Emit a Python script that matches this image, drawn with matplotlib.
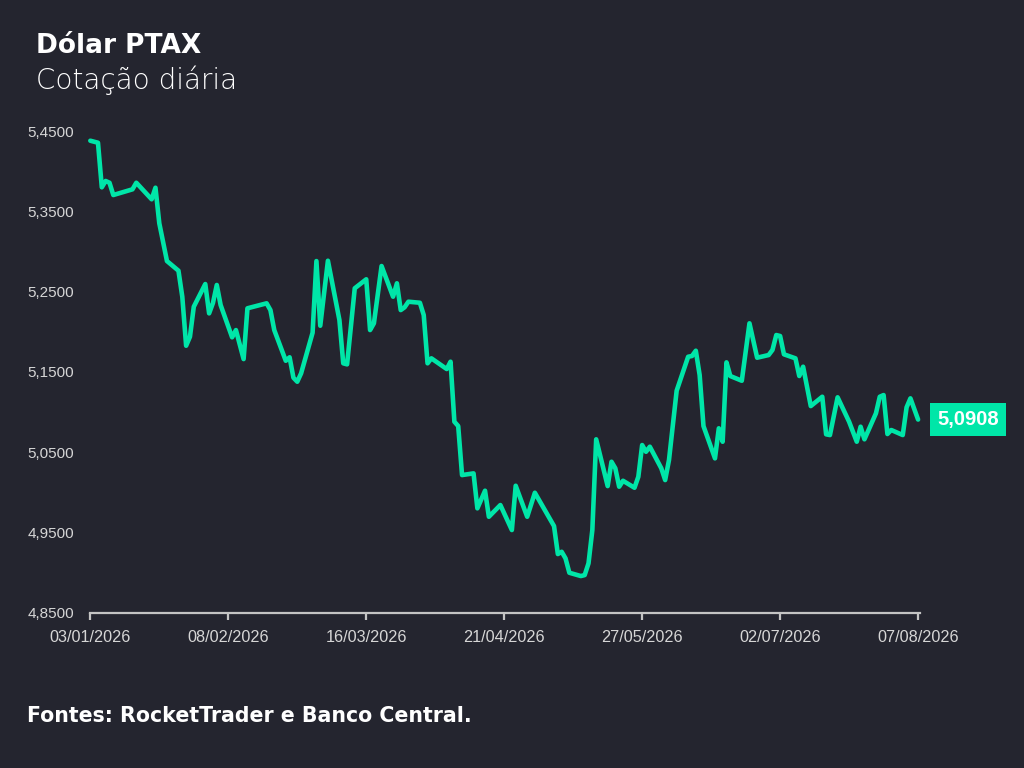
import matplotlib
matplotlib.use("Agg")
import matplotlib.pyplot as plt
import matplotlib.dates as mdates
import numpy as np
import pandas as pd

# ---- data ----
start_date = "2026-01-03"
day_offsets = [0, 2, 3, 4, 5, 6, 11, 12, 16, 17, 18, 20, 23, 24, 25, 26, 27, 30, 31, 32,
               33, 34, 37, 38, 40, 41, 46, 47, 48, 51, 52, 53, 54, 55, 58, 59, 60, 62, 65, 66,
               67, 69, 72, 73, 74, 76, 79, 80, 81, 82, 83, 86, 87, 88, 89, 93, 94, 95, 96, 97,
               100, 101, 103, 104, 107, 110, 111, 114, 116, 121, 122, 123, 124, 125, 128, 129, 130, 131, 132, 135,
               136, 137, 138, 139, 142, 143, 144, 145, 146, 149, 150, 151, 153, 156, 157, 158, 159, 160, 163, 164,
               165, 166, 167, 170, 172, 174, 177, 178, 179, 180, 181, 184, 185, 186, 188, 191, 192, 193, 195, 198,
               200, 201, 202, 205, 206, 207, 208, 209, 212, 213, 214, 216]
values = [5.4379, 5.4354, 5.3799, 5.3878, 5.3856, 5.3703, 5.3774, 5.3856, 5.3650, 5.3794,
          5.3351, 5.2881, 5.2761, 5.2437, 5.1827, 5.1939, 5.2313, 5.2595, 5.2230, 5.2359,
          5.2583, 5.2334, 5.1932, 5.2022, 5.1661, 5.2293, 5.2355, 5.2271, 5.2022, 5.1640,
          5.1683, 5.1429, 5.1379, 5.1483, 5.1989, 5.2881, 5.2076, 5.2885, 5.2147, 5.1608,
          5.1595, 5.2542, 5.2654, 5.2022, 5.2106, 5.2819, 5.2437, 5.2604, 5.2271, 5.2305,
          5.2375, 5.2362, 5.2209, 5.1608, 5.1670, 5.1537, 5.1628, 5.0881, 5.0827, 5.0217,
          5.0238, 4.9803, 5.0022, 4.9698, 4.9844, 4.9533, 5.0084, 4.9698, 4.9997, 4.9582,
          4.9234, 4.9262, 4.9180, 4.9001, 4.8960, 4.8972, 4.9118, 4.9533, 5.0662, 5.0080,
          5.0383, 5.0301, 5.0072, 5.0146, 5.0059, 5.0196, 5.0591, 5.0507, 5.0570, 5.0301,
          5.0155, 5.0404, 5.1267, 5.1690, 5.1699, 5.1765, 5.1462, 5.0827, 5.0425, 5.0799,
          5.0632, 5.1620, 5.1450, 5.1391, 5.2106, 5.1678, 5.1711, 5.1774, 5.1960, 5.1948,
          5.1720, 5.1670, 5.1450, 5.1566, 5.1076, 5.1192, 5.0724, 5.0715, 5.1185, 5.0881,
          5.0632, 5.0819, 5.0662, 5.0985, 5.1192, 5.1213, 5.0728, 5.0778, 5.0715, 5.1060,
          5.1172, 5.0908]
x_tick_labels = ["03/01/2026", "08/02/2026", "16/03/2026", "21/04/2026",
                 "27/05/2026", "02/07/2026", "07/08/2026"]
y_ticks = [4.85, 4.95, 5.05, 5.15, 5.25, 5.35, 5.45]
title = "Dólar PTAX"
subtitle = "Cotação diária"
footer = "Fontes: RocketTrader e Banco Central."

# ---- style ----
BG = "#24252f"
GREEN = "#00e6a8"
TICK = "#d6d6d6"

dates = pd.to_datetime(start_date) + pd.to_timedelta(day_offsets, unit="D")
tick_dates = pd.to_datetime(x_tick_labels, format="%d/%m/%Y")

fig = plt.figure(figsize=(10.24, 7.68), dpi=100, facecolor=BG)
ax = fig.add_axes([90 / 1024, 1 - 613 / 768, 830 / 1024, 482 / 768], facecolor=BG)

ax.plot(dates, values, color=GREEN, lw=3.3, solid_joinstyle="round",
        solid_capstyle="round", clip_on=False)

ax.set_xlim(tick_dates[0] - pd.Timedelta(hours=2), tick_dates[-1] + pd.Timedelta(hours=12))
ax.set_ylim(4.85, 5.45)
ax.set_xticks(tick_dates)
ax.set_xticklabels(x_tick_labels)
ax.set_yticks(y_ticks)
ax.set_yticklabels([f"{v:.4f}".replace(".", ",") for v in y_ticks])

for s in ["top", "right", "left"]:
    ax.spines[s].set_visible(False)
ax.spines["bottom"].set_color("#c4c4c4")
ax.spines["bottom"].set_linewidth(1.6)
ax.tick_params(axis="x", colors="#c4c4c4", length=5, width=1.6, pad=7,
               labelcolor=TICK, labelsize=11.7)
ax.tick_params(axis="y", length=0, pad=11.5, labelcolor=TICK, labelsize=11)
for lab in ax.get_xticklabels() + ax.get_yticklabels():
    lab.set_family(["Liberation Sans", "DejaVu Sans"])

# last value label
ax.annotate(f"{values[-1]:.4f}".replace(".", ","), xy=(dates[-1], values[-1]),
            xytext=(36, 0), textcoords="offset points", ha="center", va="center",
            color="white", fontsize=14.5, fontweight="bold",
            family=["Liberation Sans", "DejaVu Sans"],
            bbox=dict(boxstyle="square,pad=0.36", fc=GREEN, ec="none"),
            annotation_clip=False)

fig.text(36 / 1024, 1 - 46 / 768, title, color="white", fontsize=19, fontweight="bold",
         family=["DejaVu Sans"], va="center", ha="left")
fig.text(36 / 1024, 1 - 80 / 768, subtitle, color="white", fontsize=20, fontweight="light",
         family=["DejaVu Sans"], va="center", ha="left")
fig.text(27 / 1024, 1 - 716 / 768, footer, color="white", fontsize=14.8, fontweight="bold",
         family=["DejaVu Sans"], va="center", ha="left")

fig.savefig("out.png", dpi=100, facecolor=BG)
